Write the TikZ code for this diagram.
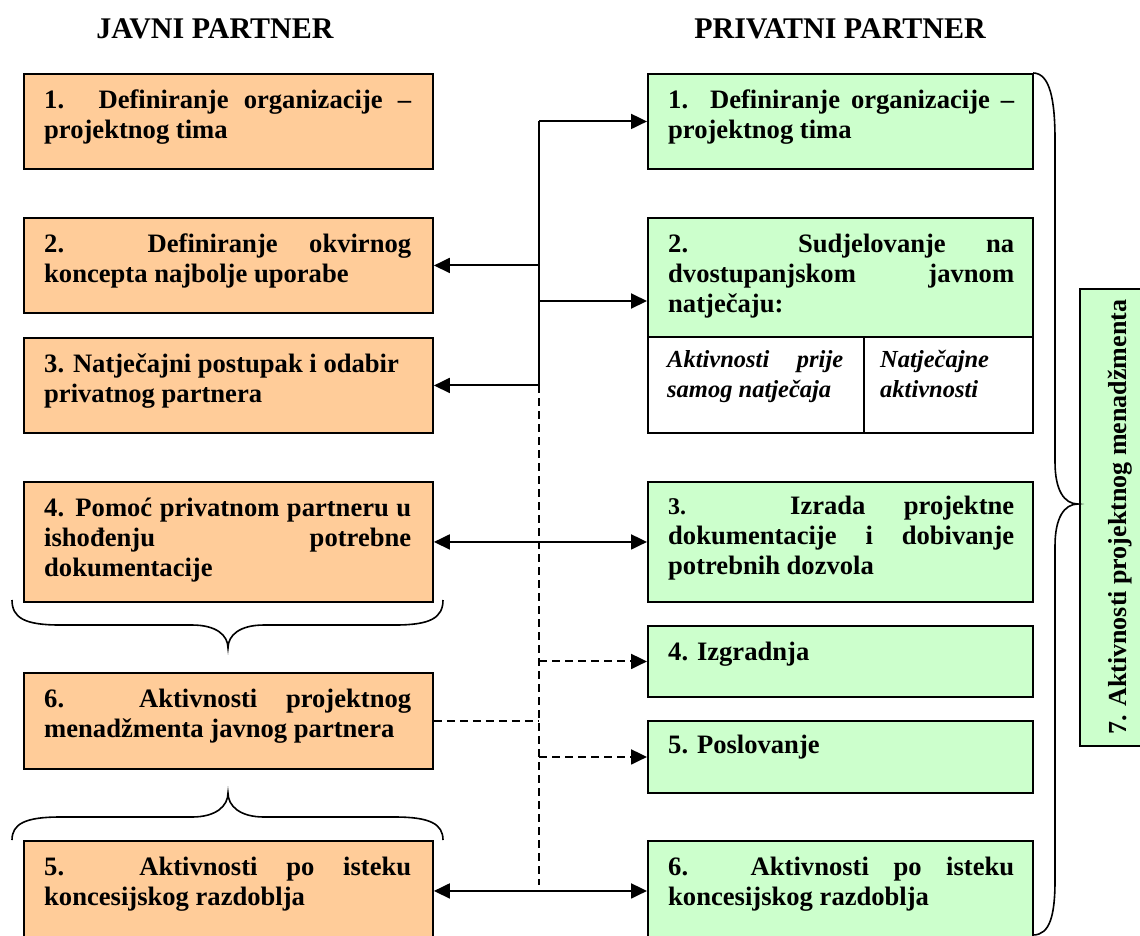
\documentclass[tikz,border=0pt]{standalone}
\usepackage{fontspec}
\setmainfont{Liberation Serif}
\usetikzlibrary{arrows.meta,calc}
\definecolor{javnifill}{HTML}{FFCC99}
\definecolor{privfill}{HTML}{CCFFCC}
% one justified line of a box text
\newcommand{\jl}[2]{\makebox[#1][s]{#2}}

\begin{document}
\begin{tikzpicture}[x=1pt,y=-1pt,
  boxbase/.style={draw=black, line width=1.9pt, inner sep=0pt, anchor=north west},
  jbox/.style={boxbase, fill=javnifill, minimum width=409pt},
  pbox/.style={boxbase, fill=privfill, minimum width=385pt},
  wbox/.style={boxbase, fill=white},
  txt/.style={anchor=north west, inner sep=0pt, align=left,
    font=\fontsize{26.6}{30}\selectfont\bfseries},
  itxt/.style={anchor=north west, inner sep=0pt, align=left,
    font=\fontsize{24.5}{30}\selectfont\bfseries\itshape},
  hdr/.style={anchor=base, inner sep=0pt, font=\fontsize{30}{34}\selectfont\bfseries},
  conn/.style={line width=2pt, draw=black},
  dconn/.style={conn, dash pattern=on 8pt off 5pt},
  tip/.tip={Triangle[length=16pt,width=15pt]},
  brace/.style={line width=1.6pt, draw=black}]

\useasboundingbox (0,0) rectangle (1140,935);

% column headings
\node[hdr] (hJ) at (215,38) {JAVNI PARTNER};
\node[hdr] (hP) at (840,38) {PRIVATNI PARTNER};

% public partner column
\node[jbox, minimum height=95pt]  (L1) at (23,73)  {};
\node[jbox, minimum height=95pt]  (L2) at (23,217) {};
\node[jbox, minimum height=95pt]  (L3) at (23,337) {};
\node[jbox, minimum height=120pt] (L4) at (23,481) {};
\node[jbox, minimum height=96pt]  (L6) at (23,672) {};
\node[jbox, minimum height=100pt] (L5) at (23,840) {};

\node[txt] (L1t) at ($(L1.north west)+(21,14)$)
  {\strut\jl{367pt}{1. Definiranje organizacije –}\\projektnog tima};
\node[txt] (L2t) at ($(L2.north west)+(21,14)$)
  {\strut\jl{367pt}{2. Definiranje okvirnog}\\koncepta najbolje uporabe};
\node[txt] (L3t) at ($(L3.north west)+(21,14)$)
  {\strut 3. Natječajni postupak i odabir\\privatnog partnera};
\node[txt] (L4t) at ($(L4.north west)+(21,14)$)
  {\strut\jl{367pt}{4. Pomoć privatnom partneru u}\\\jl{367pt}{ishođenju potrebne}\\dokumentacije};
\node[txt] (L6t) at ($(L6.north west)+(21,14)$)
  {\strut\jl{367pt}{6. Aktivnosti projektnog}\\menadžmenta javnog partnera};
\node[txt] (L5t) at ($(L5.north west)+(21,14)$)
  {\strut\jl{367pt}{5. Aktivnosti po isteku}\\koncesijskog razdoblja};

% private partner column
\node[pbox, minimum height=95pt]  (R1) at (647,73)  {};
\node[pbox, minimum height=119pt] (R2) at (647,217) {};
\node[wbox, minimum width=216pt, minimum height=96pt] (R2a) at (647,336) {};
\node[wbox, minimum width=169pt, minimum height=96pt] (R2b) at (863,336) {};
\node[pbox, minimum height=120pt] (R3) at (647,481) {};
\node[pbox, minimum height=71pt]  (R4) at (647,625) {};
\node[pbox, minimum height=72pt]  (R5) at (647,720) {};
\node[pbox, minimum height=100pt] (R6) at (647,840) {};

\node[txt] (R1t) at ($(R1.north west)+(21,14)$)
  {\strut\jl{346pt}{1. Definiranje organizacije –}\\projektnog tima};
\node[txt] (R2t) at ($(R2.north west)+(21,14)$)
  {\strut\jl{346pt}{2. Sudjelovanje na}\\\jl{346pt}{dvostupanjskom javnom}\\natječaju:};
\node[itxt] (R2at) at ($(R2a.north west)+(20,10)$)
  {\strut\jl{176pt}{Aktivnosti prije}\\samog natječaja};
\node[itxt] (R2bt) at ($(R2b.north west)+(17,10)$)
  {\strut Natječajne\\aktivnosti};
\node[txt] (R3t) at ($(R3.north west)+(21,12)$)
  {\strut\jl{346pt}{{\fontsize{24}{30}\selectfont 3.} Izrada projektne}\\\jl{346pt}{dokumentacije i dobivanje}\\potrebnih dozvola};
\node[txt] (R4t) at ($(R4.north west)+(21,14)$) {\strut 4. Izgradnja};
\node[txt] (R5t) at ($(R5.north west)+(21,12)$) {\strut 5. Poslovanje};
\node[txt] (R6t) at ($(R6.north west)+(21,14)$)
  {\strut\jl{346pt}{6. Aktivnosti po isteku}\\koncesijskog razdoblja};

% project management of the private partner
\node[pbox, minimum width=70pt, minimum height=457pt] (V7) at (1079,288) {};
\node[anchor=base west, inner sep=0pt, rotate=90,
  font=\fontsize{26}{30}\selectfont\bfseries] (V7t) at (1126,735)
  {7. Aktivnosti projektnog menadžmenta};

% connectors
\coordinate (bus) at (539,0);
\coordinate (a3) at (539,301);
\coordinate (bend) at (539,885);
\draw[conn] (R1.west -| bus) -- (L3.east -| bus);
\draw[conn,-tip] (R1.west -| bus) -- (R1.west);
\draw[conn,-tip] (L2.east -| bus) -- (L2.east);
\draw[conn,-tip] (a3) -- (a3 -| R2.west);
\draw[conn,-tip] (L3.east -| bus) -- (L3.east);
\draw[dconn] (L3.east -| bus) -- (bend);
\draw[conn,tip-tip] (L4.east) -- (R3.west);
\draw[dconn,-tip] (R4.west -| bus) -- (R4.west);
\draw[dconn] (L6.east) -- (L6.east -| bus);
\draw[dconn,-tip] (R5.west -| bus) -- (R5.west);
\draw[conn,tip-tip] (L5.east) -- (R6.west);

% braces
\draw[brace] (12,600) .. controls (12,618) and (25,625) .. (60,625) -- (192,625)
  .. controls (216,625) and (228,635) .. (228,648)
  .. controls (228,635) and (240,625) .. (264,625) -- (395,625)
  .. controls (430,625) and (443,618) .. (443,600);
\draw[brace] (12,840) .. controls (12,824) and (25,817) .. (60,817) -- (192,817)
  .. controls (216,817) and (228,806) .. (228,793)
  .. controls (228,806) and (240,817) .. (264,817) -- (395,817)
  .. controls (430,817) and (443,824) .. (443,840);
\draw[brace] (1033,73) .. controls (1050,73) and (1055,100) .. (1055,140) -- (1055,462)
  .. controls (1055,490) and (1064,504) .. (1078,504)
  .. controls (1064,504) and (1055,518) .. (1055,546) -- (1055,880)
  .. controls (1055,915) and (1050,935) .. (1033,935);
\end{tikzpicture}
\end{document}
